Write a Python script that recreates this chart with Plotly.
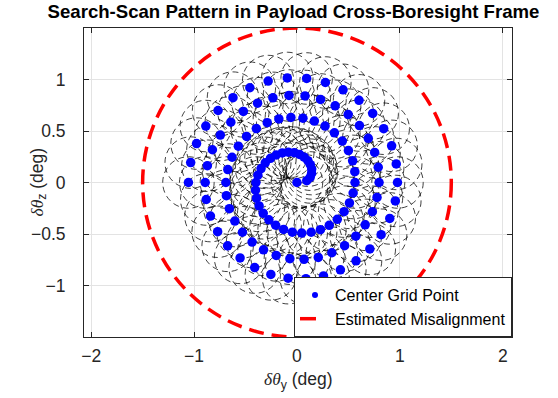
import plotly.graph_objects as go

# Center grid points of the search-scan pattern (deg)
center_dy = [
    0, 0.095, 0.128, 0.142, 0.143, 0.130, 0.106, 0.070, 0.025, -0.027, -0.084, -0.143, -0.202, -0.258, -0.308, -0.349, -0.380,
    -0.399, -0.403, -0.393, -0.368, -0.328, -0.273, -0.207, -0.130, -0.045, 0.046, 0.138, 0.228, 0.314, 0.392, 0.458, 0.510, 0.546,
    0.564, 0.562, 0.541, 0.500, 0.441, 0.364, 0.273, 0.169, 0.058, -0.059, -0.176, -0.289, -0.395, -0.490, -0.570, -0.631, -0.672,
    -0.691, -0.686, -0.657, -0.604, -0.530, -0.436, -0.325, -0.202, -0.069, 0.069, 0.207, 0.339, 0.463, 0.572, 0.663, 0.733, 0.778,
    0.798, 0.790, 0.755, 0.693, 0.607, 0.498, 0.371, 0.229, 0.078, -0.078, -0.234, -0.383, -0.521, -0.643, -0.745, -0.822, -0.871,
    -0.892, -0.882, -0.841, -0.771, -0.674, -0.553, -0.411, -0.254, -0.086, 0.087, 0.258, 0.422, 0.574, 0.708, 0.818, 0.902, 0.956,
    0.977, 0.965, 0.920, 0.843, 0.736, 0.603, 0.448, 0.276, 0.094, -0.094, -0.280, -0.458, -0.622, -0.767, -0.886, -0.976, -1.033,
    -1.055,
]
center_dz = [
    0, 0.018, 0.049, 0.088, 0.130, 0.173, 0.212, 0.246, 0.272, 0.289, 0.294, 0.287, 0.267, 0.235, 0.191, 0.135, 0.071,
    0, -0.075, -0.152, -0.228, -0.299, -0.362, -0.415, -0.456, -0.482, -0.491, -0.483, -0.458, -0.416, -0.357, -0.283, -0.198, -0.102,
    0, 0.105, 0.210, 0.310, 0.402, 0.482, 0.548, 0.596, 0.624, 0.632, 0.617, 0.581, 0.524, 0.447, 0.353, 0.245, 0.126,
    0, -0.128, -0.254, -0.374, -0.483, -0.578, -0.654, -0.708, -0.740, -0.746, -0.727, -0.682, -0.613, -0.521, -0.411, -0.284, -0.145,
    0, 0.148, 0.292, 0.429, 0.553, 0.659, 0.745, 0.806, 0.840, 0.845, 0.822, 0.770, 0.690, 0.586, 0.461, 0.318, 0.163,
    0, -0.165, -0.326, -0.478, -0.615, -0.732, -0.826, -0.892, -0.929, -0.934, -0.907, -0.848, -0.760, -0.645, -0.507, -0.349, -0.179,
    0, 0.180, 0.356, 0.522, 0.671, 0.798, 0.900, 0.971, 1.010, 1.015, 0.985, 0.920, 0.824, 0.699, 0.548, 0.378, 0.193,
    0,
]
beam_radius = 0.25          # footprint radius around each grid point (deg)
misalign_center = [0.0, 0.0]
misalign_radius = 1.5       # estimated misalignment (deg)

x_ticks = [-2, -1, 0, 1, 2]
y_ticks = [-1, -0.5, 0, 0.5, 1]
x_range = [-2.07, 2.09]
y_range = [-1.5, 1.5]

AX = "#262626"
FONT = "Arial, 'Liberation Sans', Helvetica, sans-serif"
GREEK = "<span style=\"font-family:'Liberation Serif','DejaVu Serif',serif\"><i>δθ</i></span>"

fig = go.Figure()

shapes = []
for cy, cz in zip(center_dy, center_dz):
    shapes.append(dict(
        type="circle", xref="x", yref="y",
        x0=cy - beam_radius, x1=cy + beam_radius,
        y0=cz - beam_radius, y1=cz + beam_radius,
        line=dict(color="black", width=0.75, dash="6px,4px"),
        layer="between",
    ))
shapes.append(dict(
    type="circle", xref="x", yref="y",
    x0=misalign_center[0] - misalign_radius, x1=misalign_center[0] + misalign_radius,
    y0=misalign_center[1] - misalign_radius, y1=misalign_center[1] + misalign_radius,
    line=dict(color="#ff0000", width=3.5, dash="15px,8px"),
    layer="above",
))

fig.add_trace(go.Scatter(
    x=center_dy, y=center_dz, mode="markers",
    marker=dict(color="#0000ff", size=9.5),
    showlegend=False, hoverinfo="skip",
))
# legend entries
fig.add_trace(go.Scatter(
    x=[None], y=[None], mode="markers", name="Center Grid Point",
    marker=dict(color="#0000ff", size=6),
))
fig.add_trace(go.Scatter(
    x=[None], y=[None], mode="lines", name="Estimated Misalignment",
    line=dict(color="#ff0000", width=3.5, dash="16px,100px"),
))

axis_common = dict(
    showgrid=True, gridcolor="#e3e3e3", gridwidth=1,
    zeroline=False, showline=True, linecolor=AX, linewidth=1,
    mirror="allticks", ticks="inside", ticklen=5, tickcolor=AX,
    tickfont=dict(family=FONT, size=17.5, color=AX),
)

fig.update_layout(
    width=558, height=398,
    margin=dict(l=84, r=46, t=28, b=61),
    paper_bgcolor="white", plot_bgcolor="white",
    font=dict(family=FONT, color=AX),
    title=dict(
        text="<b>Search-Scan Pattern in Payload Cross-Boresight Frame</b>",
        font=dict(family=FONT, size=18.6, color="black"),
        x=293.5 / 558, xref="container", xanchor="center",
        y=0.97, yref="container", yanchor="middle",
    ),
    xaxis=dict(range=x_range, tickvals=x_ticks, ticklabelstandoff=3, **axis_common),
    yaxis=dict(range=y_range, tickvals=y_ticks, ticklabelstandoff=14, **axis_common),
    shapes=shapes,
    annotations=[
        dict(text=GREEK + "<sub>y</sub> (deg)", xref="paper", yref="paper",
             x=0.5, y=(337 - 380) / 309, xanchor="center", yanchor="middle",
             showarrow=False, font=dict(family=FONT, size=17.5, color=AX)),
        dict(text=GREEK + "<sub>z</sub> (deg)", xref="paper", yref="paper",
             x=(38 - 84) / 428, y=0.5, xanchor="center", yanchor="middle",
             textangle=-90, showarrow=False, font=dict(family=FONT, size=17.5, color=AX)),
    ],
    legend=dict(
        x=1, y=0, xanchor="right", yanchor="bottom",
        bgcolor="white", bordercolor=AX, borderwidth=1,
        font=dict(family=FONT, size=16, color="black"),
        tracegroupgap=0, itemwidth=30,
    ),
)

fig.write_html("out.html", config={"displayModeBar": False},
               post_script="document.body.style.margin='0';")
